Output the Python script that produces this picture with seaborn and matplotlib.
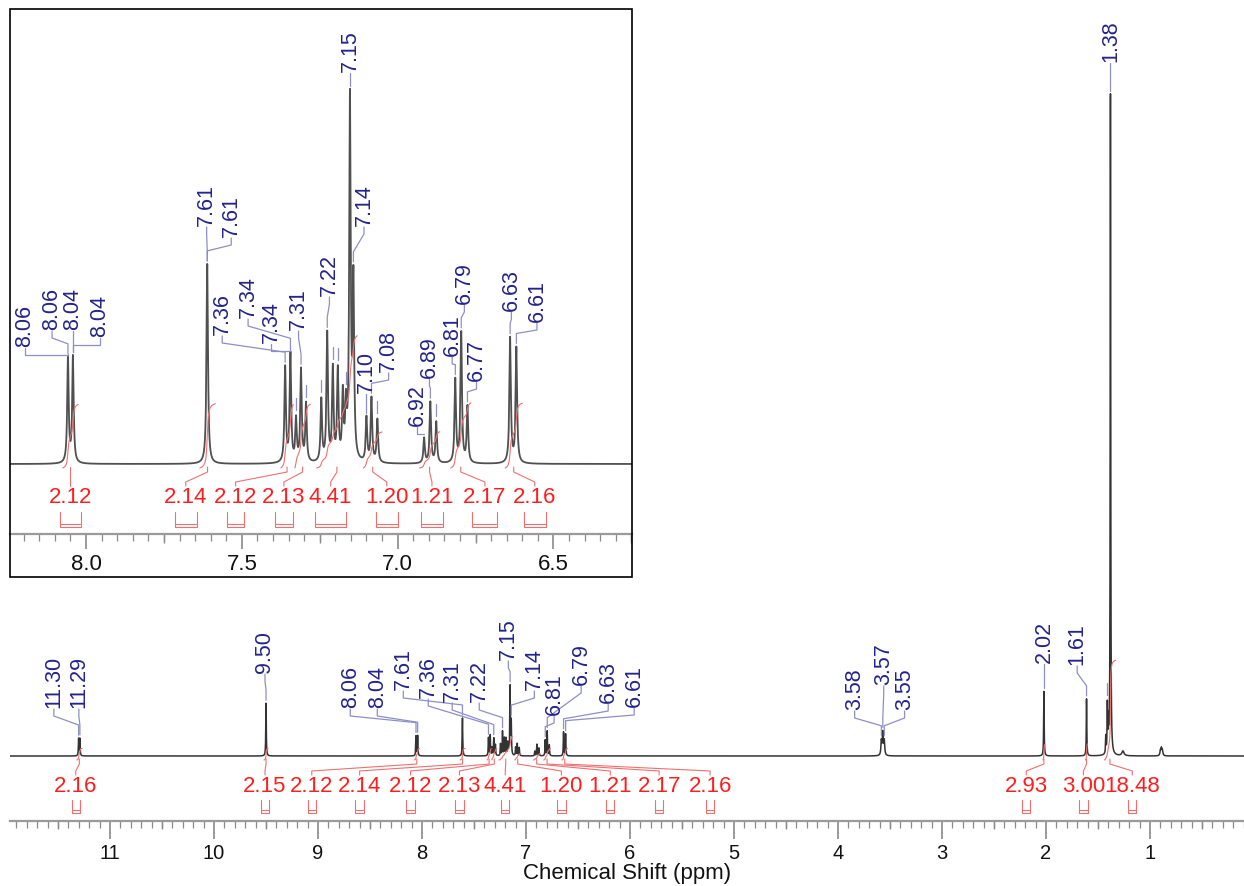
import numpy as np
import matplotlib
matplotlib.use("Agg")
import matplotlib.pyplot as plt
import matplotlib.transforms as mtrans
import seaborn as sns
from matplotlib.patches import Rectangle

sns.set_theme(style="white")
plt.rcParams['font.family'] = ['Liberation Sans', 'DejaVu Sans']

# ---------------- data ----------------
# peak list: position (ppm), amplitude (arb. units), half width (ppm)
peak_ppm = [11.302, 11.290, 9.500,
            8.058, 8.042, 7.611,
            7.361, 7.344, 7.326, 7.310, 7.294,
            7.245, 7.226, 7.208, 7.192, 7.176, 7.166, 7.153, 7.142,
            7.100, 7.084, 7.065,
            6.915, 6.895, 6.876,
            6.815, 6.796, 6.776,
            6.639, 6.619,
            3.583, 3.569, 3.555,
            2.020, 1.610,
            1.425, 1.410, 1.400, 1.380,
            1.260, 0.900, 0.890, 0.880]
peak_amp = [90, 90, 278,
            104, 106, 200,
            95, 108, 42, 92, 58,
            62, 128, 92, 90, 65, 50, 360, 175,
            44, 64, 43,
            25, 61, 41,
            83, 130, 56,
            125, 115,
            75, 118, 75,
            340, 300,
            90, 250, 150, 3480,
            25, 26, 38, 26]
peak_gamma = [0.0028] * 30 + [0.005] * 3 + [0.0028] * 6 + [0.012, 0.005, 0.005, 0.005]

# peak labels (inset)
in_lab_text = ["8.06", "8.06", "8.04", "8.04", "7.61", "7.61", "7.36", "7.34", "7.34",
               "7.31", "7.22", "7.15", "7.14", "7.10", "7.08", "6.92", "6.89", "6.81",
               "6.79", "6.77", "6.63", "6.61"]
in_lab_peak = [8.058, 8.058, 8.042, 8.042, 7.611, 7.611, 7.361, 7.344, 7.344,
               7.310, 7.226, 7.153, 7.142, 7.100, 7.084, 6.915, 6.895, 6.815,
               6.796, 6.776, 6.639, 6.619]
in_stub_peak = [7.326, 7.294, 7.245, 7.208, 7.192, 7.166, 7.065, 6.876]

# peak labels (full spectrum)
mn_lab_text = ["11.30", "11.29", "9.50", "8.06", "8.04", "7.61", "7.36", "7.31", "7.22",
               "7.15", "7.14", "6.81", "6.79", "6.63", "6.61",
               "3.58", "3.57", "3.55", "2.02", "1.61", "1.38"]
mn_lab_peak = [11.302, 11.290, 9.500, 8.058, 8.042, 7.611, 7.361, 7.310, 7.226,
               7.153, 7.142, 6.815, 6.796, 6.639, 6.619,
               3.583, 3.569, 3.555, 2.020, 1.610, 1.380]
mn_stub_peak = [1.410]

# integrals
in_int_text = ["2.12", "2.14", "2.12", "2.13", "4.41", "1.20", "1.21", "2.17", "2.16"]
in_int_region = [(8.075, 8.025), (7.635, 7.585), (7.375, 7.335), (7.33, 7.28),
                 (7.26, 7.13), (7.11, 7.05), (6.93, 6.865), (6.83, 6.765), (6.655, 6.60)]
mn_int_text = ["2.16", "2.15", "2.12", "2.14", "2.12", "2.13", "4.41", "1.20", "1.21",
               "2.17", "2.16", "2.93", "3.00", "18.48"]
mn_int_region = [(11.32, 11.27), (9.52, 9.48), (8.075, 8.025), (7.635, 7.585),
                 (7.375, 7.335), (7.33, 7.28), (7.26, 7.13), (7.11, 7.05),
                 (6.93, 6.865), (6.83, 6.765), (6.655, 6.60), (2.03, 2.01),
                 (1.62, 1.60), (1.44, 1.33)]

# ---------------- layout (label placement, px from top) ----------------
in_lab_x = [8.196, 8.109, 8.042, 7.955, 7.613, 7.534, 7.563, 7.48, 7.405,
            7.318, 7.219, 7.153, 7.108, 7.10, 7.029, 6.937, 6.898, 6.825,
            6.786, 6.747, 6.635, 6.553]
in_lab_bottom = [347, 330, 330, 337, 226, 237, 335, 318, 343,
                 330, 296, 72, 226, 393, 372, 426, 378, 356,
                 304, 381, 311, 322]
mn_lab_x = [11.54, 11.30, 9.51, 8.69, 8.43, 8.18, 7.94, 7.71, 7.45,
            7.17, 6.92, 6.73, 6.47, 6.21, 5.96,
            3.84, 3.56, 3.36, 2.02, 1.70, 1.38]
mn_lab_bottom = [708, 708, 673, 708, 708, 690, 698, 702, 702,
                 660, 690, 715, 685, 703, 707,
                 710, 685, 710, 663, 665, 62]
in_int_x = [8.05, 7.68, 7.52, 7.365, 7.215, 7.035, 6.89, 6.72, 6.56]
in_int_br = [0.07, 0.07, 0.055, 0.06, 0.10, 0.07, 0.07, 0.08, 0.07]
mn_int_x = [11.33, 9.51, 9.06, 8.60, 8.11, 7.64, 7.20, 6.66, 6.19, 5.72, 5.23,
            2.19, 1.64, 1.17]

NAVY = "#23238c"
LAV = "#8e8ec8"
RED = "#ff1e1e"
PINK = "#f07070"

# ---------------- spectrum ----------------
grid = np.linspace(0.0, 12.0, 60001)
spec = np.zeros_like(grid)
for p, a, g in zip(peak_ppm, peak_amp, peak_gamma):
    spec += a / (1.0 + ((grid - p) / g) ** 2)

def spec_at(p):
    return float(np.interp(p, grid, spec))

W, H = 1244, 887
fig = plt.figure(figsize=(W / 100, H / 100), dpi=100)

def fig_rect(x0, y0, x1, y1):
    return [x0 / W, 1 - y1 / H, (x1 - x0) / W, (y1 - y0) / H]

ax = fig.add_axes(fig_rect(10, 0, 1244, 822))
axi = fig.add_axes(fig_rect(10, 10, 632, 535))

def style_axis(a, xl, yl):
    a.set_xlim(*xl)
    a.set_ylim(*yl)
    for s in ["top", "left", "right"]:
        a.spines[s].set_visible(False)
    a.spines["bottom"].set_color("#9a9a9a")
    a.spines["bottom"].set_linewidth(1.6)
    a.set_yticks([])
    a.set_ylabel("")
    a.tick_params(axis="x", which="both", direction="out", colors="#8a8a8a",
                  labelcolor="#111111", bottom=True)

def mid_ticks(a, positions, length_px, height_px):
    tr = mtrans.blended_transform_factory(a.transData, a.transAxes)
    a.vlines(positions, 0, -length_px / height_px, transform=tr, colors="#8a8a8a",
             lw=1.0, clip_on=False)

# main spectrum
MAIN_SCALE = 0.19
BASE_MAIN = 757
style_axis(ax, (11.962, 0.096), (-65, BASE_MAIN))
sns.lineplot(x=grid, y=spec * MAIN_SCALE, ax=ax, color="#333333", lw=1.1,
             estimator=None, sort=False)
ax.set_xticks(np.arange(1, 12, 1))
ax.set_xticklabels([str(v) for v in range(1, 12)])
ax.set_xticks(np.arange(0.1, 12.0, 0.1), minor=True)
ax.tick_params(axis="x", which="major", length=13, width=1.2, labelsize=14.5, pad=3)
ax.tick_params(axis="x", which="minor", length=5, width=0.9)
mid_ticks(ax, np.arange(0.5, 12.0, 1.0), 8, 822)
ax.set_xlabel("Chemical Shift (ppm)", fontsize=16, color="#111111", labelpad=0)

# inset spectrum
BASE_IN = 465
style_axis(axi, (8.244, 6.248), (-70, BASE_IN - 10))
sns.lineplot(x=grid, y=spec, ax=axi, color="#505050", lw=1.3,
             estimator=None, sort=False)
axi.set_xticks([6.5, 7.0, 7.5, 8.0])
axi.set_xticklabels(["6.5", "7.0", "7.5", "8.0"])
axi.set_xticks(np.arange(6.25, 8.25, 0.05), minor=True)
axi.tick_params(axis="x", which="major", length=11, width=1.2, labelsize=16, pad=3)
axi.tick_params(axis="x", which="minor", length=5, width=0.9)
mid_ticks(axi, [6.25, 6.75, 7.25, 7.75], 9, 525)
axi.set_xlabel("")
fig.patches.append(Rectangle((10 / W, 1 - 578 / H), 622 / W, 568 / H,
                             transform=fig.transFigure, fill=False,
                             ec="black", lw=1.2, zorder=10))

def peak_labels(a, texts, peaks, xs, bottoms, base, scale, fs):
    for t, p, lx, b in zip(texts, peaks, xs, bottoms):
        lb = base - b
        top = spec_at(p) * scale
        k1 = lb - 9
        k2 = top + 13
        if k2 > k1:
            k2 = k1
        a.plot([lx, lx, p, p], [lb - 2, k1, k2, top + 3], color=LAV, lw=0.9,
               clip_on=False, zorder=3)
        a.text(lx, lb, t, rotation=90, ha="center", va="bottom", color=NAVY,
               fontsize=fs, zorder=4)

def stubs(a, peaks, scale):
    for p in peaks:
        top = spec_at(p) * scale
        a.plot([p, p], [top + 5, top + 17], color=LAV, lw=0.9, zorder=3)

def integrals(a, texts, regions, xs, brw, scale_px, lab_y, br_top, br_bot, fs):
    for t, (r0, r1), lx, w in zip(texts, regions, xs, brw):
        m = (grid <= r0) & (grid >= r1)
        gx = grid[m][::-1]
        gy = spec[m][::-1]
        cum = np.cumsum(gy)
        cum = cum / cum[-1] * float(t) * scale_px
        a.plot(gx, cum - 4, color=PINK, lw=0.8, zorder=2)
        rc = 0.5 * (r0 + r1)
        a.plot([lx, lx, rc, rc], [lab_y + 11, lab_y + 15, -8, -3], color=PINK,
               lw=0.8, zorder=2, clip_on=False)
        a.text(lx, lab_y, t, ha="center", va="center", color=RED, fontsize=fs, zorder=4)
        x0, x1 = lx + w / 2, lx - w / 2
        a.plot([x0, x0, x1, x1], [br_top, br_bot, br_bot, br_top], color=PINK, lw=0.8)
        a.plot([x0, x1], [br_bot + 3, br_bot + 3], color=PINK, lw=0.8)

peak_labels(axi, in_lab_text, in_lab_peak, in_lab_x, in_lab_bottom, BASE_IN, 1.0, 15.5)
stubs(axi, in_stub_peak, 1.0)
integrals(axi, in_int_text, in_int_region, in_int_x, in_int_br, 30,
          -33, -48, -63, 16)

peak_labels(ax, mn_lab_text, mn_lab_peak, mn_lab_x, mn_lab_bottom, BASE_MAIN, MAIN_SCALE, 15.5)
stubs(ax, mn_stub_peak, MAIN_SCALE)
integrals(ax, mn_int_text, mn_int_region, mn_int_x, [0.08] * len(mn_int_x), 5.4,
          -30, -44, -57, 16)

fig.savefig("out.png", dpi=100)
